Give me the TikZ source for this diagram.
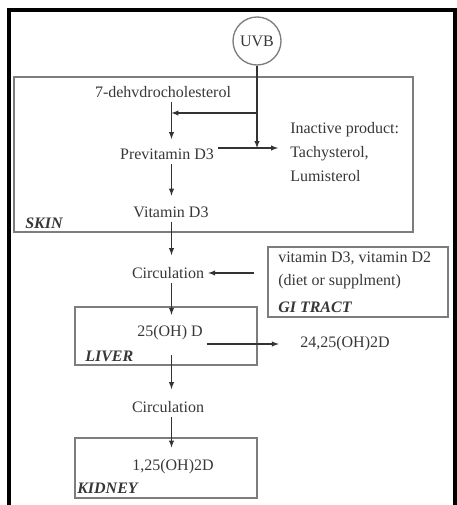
\documentclass[tikz,border=0pt]{standalone}
\usepackage{fontspec}
\setmainfont{Liberation Serif}
\usetikzlibrary{positioning}
\usetikzlibrary{arrows,shapes}
\usetikzlibrary{calc}
\definecolor{txtgray}{RGB}{55,55,55}
\definecolor{boxgray}{RGB}{125,125,125}
\tikzstyle{stage}=[inner sep=3pt,text=txtgray,font=\fontsize{12}{14}\selectfont]
\tikzstyle{organ}=[anchor=west,inner sep=0pt,text=txtgray,font=\fontsize{12}{14}\selectfont\bfseries\itshape]
\tikzstyle{region}=[draw=boxgray,line width=1.1pt,inner sep=0pt]
\tikzstyle{edge}=[draw,->,>=latex,line width=0.8pt,black!80]
\begin{document}
\begin{tikzpicture}[x=0.75pt,y=-0.75pt]

  \useasboundingbox (0,0) rectangle (456,505);
  \draw[line width=3pt] (8.5,512) -- (8.5,10) -- (455,10) -- (455,512);

  \foreach \xa/\ya/\xb/\yb/\name in {14/77/413/232/skin, 268/247/448/317/gi, 75/307/257/365/liver, 75/438/257/498/kidney}
          \node[region, minimum width={(\xb-\xa)*0.75pt}, minimum height={(\yb-\ya)*0.75pt}] (\name) at ({(\xa+\xb)/2},{(\ya+\yb)/2}) {};

  \foreach \x/\y/\name/\label in {163/92/dehydro/7-dehvdrocholesterol, 167/154/previt/Previtamin D3, 171/212/vitd/Vitamin D3, 168/273/circa/Circulation, 170/333/ohd/25(OH) D, 345/344/ohdd/{24,25(OH)2D}, 168/407/circb/Circulation, 173/467/ohk/{1,25(OH)2D}}
          \node[stage] (\name) at (\x,\y) {\label};

  \node[stage,anchor=west,align=left,font=\fontsize{12}{18}\selectfont] (inactive) at (286,152) {Inactive product:\\Tachysterol,\\Lumisterol};
  \node[stage,anchor=west,align=left,font=\fontsize{12}{17}\selectfont] (gisrc) at (274,270.5) {vitamin D3, vitamin D2\\(diet or supplment)};

  \foreach \x/\y/\name/\label in {25/223/skinlbl/SKIN, 278/307/gilbl/GI TRACT, 85/356/liverlbl/LIVER, 77/488/kidneylbl/KIDNEY}
          \node[organ] (\name) at (\x,\y) {\label};

  \node[circle,draw=boxgray,line width=1pt,minimum size=36pt,inner sep=0pt,text=txtgray,font=\fontsize{12}{14}\selectfont] (uvb) at (257,41) {UVB};

  \coordinate (spine) at (171.5,0);
  \coordinate (fork) at (257,113);
  \coordinate (junc) at (257,148);

  \draw[edge] (uvb.south) -- (junc);
  \draw[edge] (fork) -- (fork -| spine);
  \draw[edge, shorten >=4pt] (dehydro.south -| spine) -- (previt.north -| spine);
  \draw[edge, shorten >=6pt] (previt.east |- junc) -- (junc -| inactive.west);
  \draw[edge, shorten >=5pt] (previt.south -| spine) -- (vitd.north -| spine);
  \draw[edge, shorten >=6pt] (vitd.south -| spine) -- (circa.north -| spine);
  \draw[edge, shorten <=10pt] (gi.west |- circa) -- (circa.east);
  \draw[edge, shorten >=5pt] (circa.south -| spine) -- (ohd.north -| spine);
  \draw[edge, shorten >=13pt] (ohd.east |- ohdd) -- (ohdd.west);
  \draw[edge, shorten <=8pt, shorten >=6pt] (ohd.south -| spine) -- (circb.north -| spine);
  \draw[edge, shorten >=6pt] (circb.south -| spine) -- (ohk.north -| spine);

\end{tikzpicture}
\end{document}
